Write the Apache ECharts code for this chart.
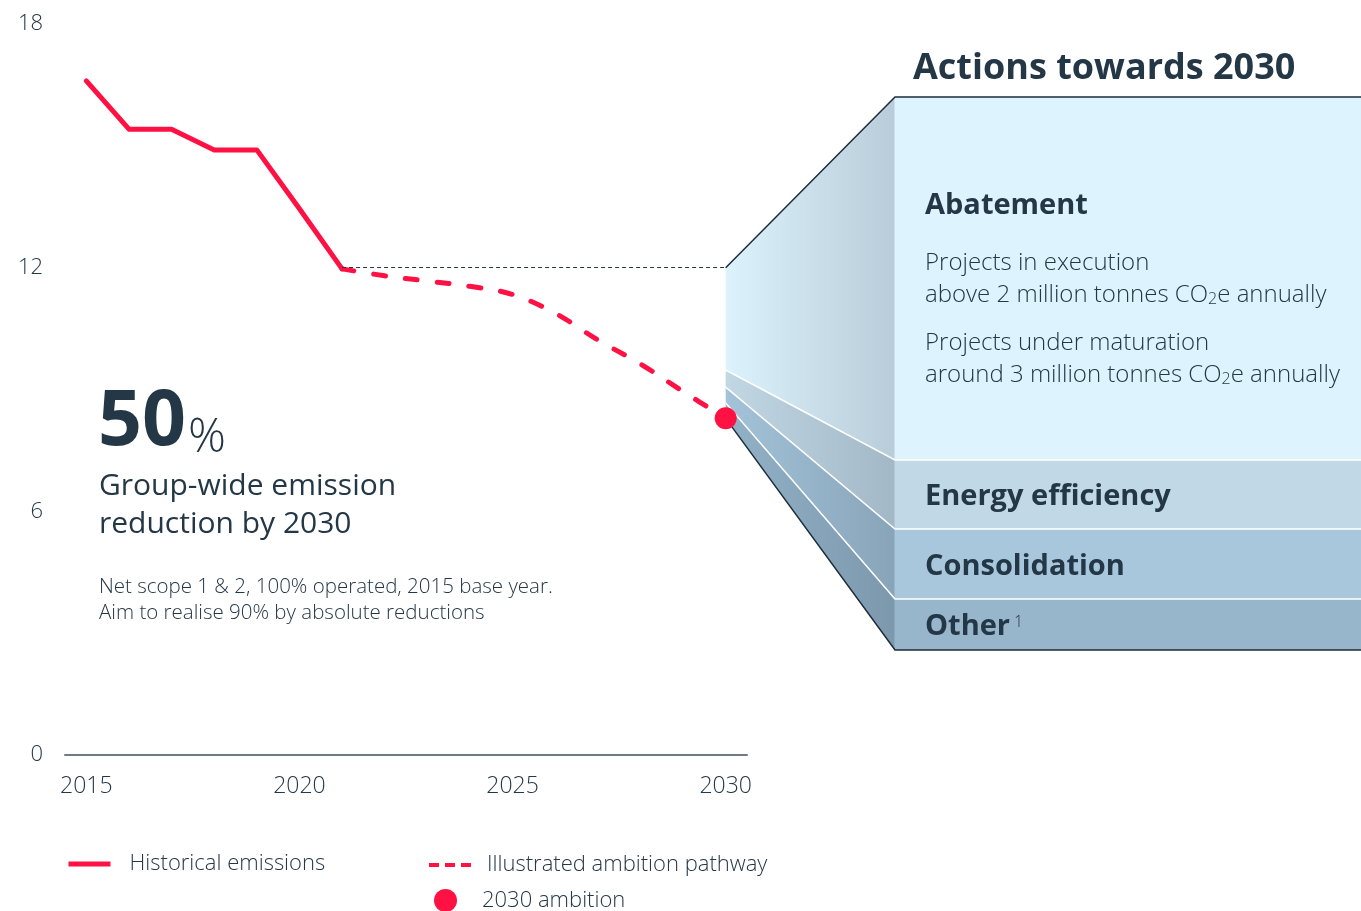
<!DOCTYPE html>
<html>
<head>
<meta charset="utf-8">
<title>Actions towards 2030</title>
<script src="https://cdn.jsdelivr.net/npm/echarts@6/dist/echarts.min.js"></script>
<style>
  html, body { margin: 0; padding: 0; background: #fff; }
  #main { width: 1361px; height: 911px; }
</style>
</head>
<body>
<div id="main"></div>
<script>
// emissions, million tonnes CO2e
var histYears = [2015, 2016, 2017, 2018, 2019, 2020, 2021];
var histValues = [16.6, 15.41, 15.41, 14.9, 14.9, 13.45, 11.97];
var pathYears = [2021, 2022, 2023, 2024, 2025, 2026, 2027, 2028, 2029, 2030];
var pathValues = [11.97, 11.8, 11.67, 11.54, 11.34, 10.88, 10.22, 9.63, 8.95, 8.29];
var ambitionYear = 2030;
var ambitionValue = 8.29;
var baseLevel = 12;
var xTicks = [2015, 2020, 2025, 2030];
var yTicks = [0, 6, 12, 18];
// actions towards 2030, stacked from the 2021 level down to the ambition
var bandNames = ['Abatement', 'Energy efficiency', 'Consolidation', 'Other'];
var bandNotes = ['', '', '', '1'];
var bandEdges = [12, 9.48, 9.06, 8.67, 8.29];

var RED = '#ff1243';
var INK = '#243746';
var FONT = 'Open Sans';

// panel layout (pixels)
var panelX0 = 895, panelX1 = 1361;
var panelRows = [97, 460, 529, 599, 650];
var bandColors = [
  ['#ddf3fd', '#dcf2fc', '#b8cdd9'],
  ['#c1d8e7', '#c2d7e4', '#a3b8c6'],
  ['#a8c7dc', '#a3c3d9', '#88a4b9'],
  ['#98b6cb', '#92b2c8', '#7d98ad']
];

var bandData = bandNames.map(function (n, i) {
  return [ambitionYear, bandEdges[i], bandEdges[i + 1], i];
});

function renderBand(params, api) {
  var i = api.value(3);
  var pTop = api.coord([api.value(0), api.value(1)]);
  var pBot = api.coord([api.value(0), api.value(2)]);
  var yTop = panelRows[i], yBot = panelRows[i + 1];
  var c = bandColors[i];
  var kids = [
    {
      type: 'polygon',
      shape: { points: [pTop, [panelX0, yTop], [panelX0, yBot], pBot] },
      style: {
        fill: new echarts.graphic.LinearGradient(0, 0, 1, 0, [
          { offset: 0, color: c[1] }, { offset: 1, color: c[2] }
        ])
      }
    },
    {
      type: 'rect',
      shape: { x: panelX0 - 0.5, y: yTop, width: panelX1 - panelX0 + 0.5, height: yBot - yTop },
      style: { fill: c[0] }
    }
  ];
  if (i < bandNames.length - 1) {
    kids.push({
      type: 'polyline', z2: 10,
      shape: { points: [pBot, [panelX0, yBot], [panelX1, yBot]] },
      style: { stroke: '#fff', lineWidth: 1.5, fill: null }
    });
  }
  if (i === 0) {
    kids.push({
      type: 'polyline', z2: 11,
      shape: { points: [pTop, [panelX0, yTop], [panelX1, yTop]] },
      style: { stroke: '#1d2c3a', lineWidth: 1.5, fill: null }
    });
  }
  if (i === bandNames.length - 1) {
    kids.push({
      type: 'polyline', z2: 11,
      shape: { points: [pBot, [panelX0, yBot], [panelX1, yBot]] },
      style: { stroke: '#1d2c3a', lineWidth: 1.5, fill: null }
    });
  }
  var txt = '{n|' + bandNames[i] + '}' + (bandNotes[i] ? '{s|' + bandNotes[i] + '}' : '');
  kids.push({
    type: 'text', z2: 20,
    style: {
      text: txt,
      x: 925,
      y: i === 0 ? yTop + 106 : (yTop + yBot) / 2,
      verticalAlign: 'middle',
      rich: {
        n: { fontSize: 29, fontWeight: 'bold', fontFamily: FONT, fill: INK, lineHeight: 34, verticalAlign: 'bottom' },
        s: { fontSize: 16, fontWeight: 300, fontFamily: FONT, fill: INK, lineHeight: 22, verticalAlign: 'top', padding: [7, 0, 0, 4] }
      }
    }
  });
  return { type: 'group', children: kids };
}

var subRich = {
  t: { fontSize: 24, fontWeight: 300, fontFamily: FONT, fill: INK, lineHeight: 32, verticalAlign: 'bottom' },
  sub: { fontSize: 16, fontWeight: 300, fontFamily: FONT, fill: INK, lineHeight: 17, verticalAlign: 'bottom' }
};

var legendText = { fontSize: 22, fontWeight: 300, color: INK, fontFamily: FONT };

var myChart = echarts.init(document.getElementById('main'));
var option = {
  animation: false,
  textStyle: { fontFamily: FONT },
  grid: { left: 65, right: 614, top: 24, bottom: 156 },
  xAxis: {
    type: 'value',
    min: 2014.5,
    max: 2030.5,
    axisLine: { lineStyle: { color: '#6e7b86', width: 2 } },
    axisTick: { show: false },
    splitLine: { show: false },
    axisLabel: {
      customValues: xTicks,
      formatter: function (v) { return String(v); },
      margin: 20,
      fontSize: 23,
      fontWeight: 300,
      color: INK,
      fontFamily: FONT
    }
  },
  yAxis: {
    type: 'value',
    min: 0,
    max: 18,
    interval: 6,
    axisLine: { show: false },
    axisTick: { show: false },
    splitLine: { show: false },
    axisLabel: {
      customValues: yTicks,
      margin: 22,
      fontSize: 22,
      fontWeight: 300,
      color: INK,
      fontFamily: FONT,
      padding: [8, 0, 0, 0]
    }
  },
  legend: [
    {
      data: ['Historical emissions'],
      left: 66, top: 853, padding: 0,
      itemWidth: 42, itemHeight: 16,
      itemStyle: { color: 'rgba(0,0,0,0)', borderWidth: 0 },
      lineStyle: { width: 5, cap: 'butt' },
      textStyle: Object.assign({ padding: [0, 0, 0, 14] }, legendText)
    },
    {
      data: ['Illustrated ambition pathway'],
      left: 427, top: 854, padding: 0,
      itemWidth: 43, itemHeight: 16,
      itemStyle: { color: 'rgba(0,0,0,0)', borderWidth: 0 },
      lineStyle: { width: 4, type: [10, 6], cap: 'butt' },
      textStyle: Object.assign({ padding: [0, 0, 0, 10] }, legendText)
    },
    {
      data: ['2030 ambition'],
      left: 434, top: 889, padding: 0,
      icon: 'circle',
      itemWidth: 23, itemHeight: 23,
      itemStyle: { color: RED, opacity: 1 },
      textStyle: Object.assign({ padding: [0, 0, 0, 20] }, legendText)
    }
  ],
  graphic: [
    {
      type: 'text', x: 913, y: 69, z: 100,
      style: { text: 'Actions towards 2030', fontSize: 36, fontWeight: 'bold', fontFamily: FONT, fill: INK, verticalAlign: 'middle' }
    },
    {
      type: 'text', x: 925, y: 243, z: 100,
      style: {
        text: '{t|Projects in execution}\n{t|above 2 million tonnes CO}{sub|2}{t|e annually}',
        rich: subRich
      }
    },
    {
      type: 'text', x: 925, y: 323, z: 100,
      style: {
        text: '{t|Projects under maturation}\n{t|around 3 million tonnes CO}{sub|2}{t|e annually}',
        rich: subRich
      }
    },
    {
      type: 'text', x: 98, y: 385, z: 100,
      style: {
        text: '{a|50}{b|%}',
        rich: {
          a: { fontSize: 77, fontWeight: 'bold', fontFamily: FONT, fill: INK, lineHeight: 77, verticalAlign: 'bottom' },
          b: { fontSize: 47, fontWeight: 300, fontFamily: FONT, fill: INK, lineHeight: 60, verticalAlign: 'bottom', padding: [0, 0, 0, 2] }
        }
      }
    },
    {
      type: 'text', x: 99, y: 467, z: 100,
      style: {
        text: 'Group-wide emission\nreduction by 2030',
        fontSize: 30, fontWeight: 500, fontFamily: FONT, fill: INK, lineHeight: 38
      }
    },
    {
      type: 'text', x: 99, y: 574, z: 100,
      style: {
        text: 'Net scope 1 & 2, 100% operated, 2015 base year.\nAim to realise 90% by absolute reductions',
        fontSize: 20.5, fontWeight: 300, fontFamily: FONT, fill: INK, lineHeight: 26
      }
    }
  ],
  series: [
    {
      name: 'Actions',
      type: 'custom',
      renderItem: renderBand,
      data: bandData,
      encode: { x: 0, y: 1 },
      clip: false,
      silent: true,
      z: 1
    },
    {
      name: 'Historical emissions',
      type: 'line',
      data: histYears.map(function (y, i) { return [y, histValues[i]]; }),
      symbol: 'none',
      color: RED,
      lineStyle: { color: RED, width: 5, join: 'round', cap: 'round' },
      z: 3
    },
    {
      name: 'Illustrated ambition pathway',
      type: 'line',
      data: pathYears.map(function (y, i) { return [y, pathValues[i]]; }),
      symbol: 'none',
      smooth: 0.35,
      color: RED,
      lineStyle: { color: RED, width: 5, type: [12, 20], cap: 'round' },
      markLine: {
        silent: true,
        symbol: 'none',
        label: { show: false },
        lineStyle: { color: INK, width: 1, type: [4, 3] },
        data: [[{ coord: [pathYears[0], baseLevel] }, { coord: [ambitionYear, baseLevel] }]]
      },
      z: 3
    },
    {
      name: '2030 ambition',
      type: 'scatter',
      data: [[ambitionYear, ambitionValue]],
      symbolSize: 22,
      itemStyle: { color: RED, opacity: 1 },
      z: 5
    }
  ]
};
myChart.setOption(option);
</script>
</body>
</html>
